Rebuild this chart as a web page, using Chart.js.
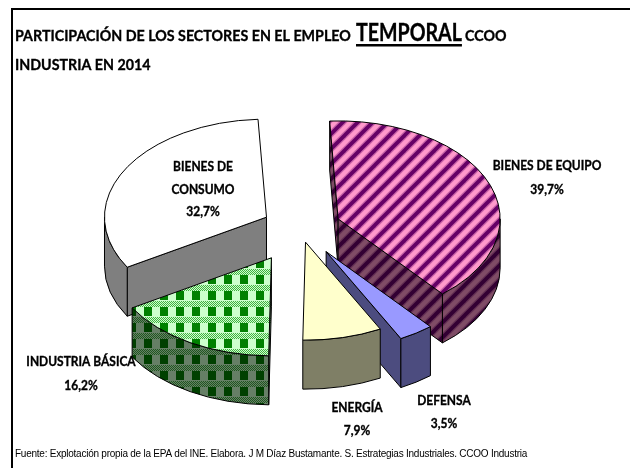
<!DOCTYPE html>
<html lang="es">
<head>
<meta charset="utf-8">
<title>Participación de los sectores en el empleo temporal</title>
<script src="https://cdn.jsdelivr.net/npm/chart.js@4"></script>
<style>html,body{margin:0;padding:0;background:#fff}canvas{display:block}</style>
</head>
<body>
<canvas id="c" width="630" height="468"></canvas>
<script>
const categories = ['BIENES DE EQUIPO', 'DEFENSA', 'ENERGÍA', 'INDUSTRIA BÁSICA', 'BIENES DE CONSUMO'];
const values = [39.7, 3.5, 7.9, 16.2, 32.7];
const valueLabels = ['39,7%', '3,5%', '7,9%', '16,2%', '32,7%'];
const explode = [41, 47, 24, 57, 38];

const TILT = 0.605, DEPTH = 49, FONT = 'Lato, "Open Sans", sans-serif';
const labelLines = [['BIENES DE EQUIPO'], ['DEFENSA'], ['ENERGÍA'], ['INDUSTRIA BÁSICA'], ['BIENES DE', 'CONSUMO']];
const labelPlace = [[547, 166, 24], [444, 401, 23], [357, 408, 23], [81, 362, 24], [203, 167, 22.5]];

function tile(size, paint, dark) {
  const t = document.createElement('canvas');
  t.width = t.height = size;
  const g = t.getContext('2d');
  paint(g, size);
  if (dark) { g.fillStyle = 'rgba(0,0,0,0.5)'; g.fillRect(0, 0, size, size); }
  return g.createPattern(t, 'repeat');
}
function stripes(g, s) {
  g.fillStyle = '#ff99cc'; g.fillRect(0, 0, s, s);
  [[6.5, 'rgba(102,0,102,0.35)'], [3.8, '#660066']].forEach(([w, c]) => {
    g.strokeStyle = c; g.lineWidth = w;
    for (let o = -s; o <= s; o += s) {
      g.beginPath(); g.moveTo(o - 2, s + 2); g.lineTo(o + s + 2, -2); g.stroke();
    }
  });
}
function plaid(g, s) {
  g.fillStyle = '#ccffcc'; g.fillRect(0, 0, s, s);
  g.fillStyle = '#008000'; g.fillRect(0, 3, 8, 9);
  for (let y = 13; y < s + 3; y++) for (let x = 0; x < s; x++) {
    if ((x + y) % 2 === 0) { g.fillStyle = '#40b040'; g.fillRect(x, y % s, 1, 1); }
  }
}
const solid = c => (g, s) => { g.fillStyle = c; g.fillRect(0, 0, s, s); };
const fills = [
  [15, stripes], [4, solid('#9999ff')], [4, solid('#ffffcc')], [16, plaid], [4, solid('#ffffff')]
].map(([s, p]) => ({ face: tile(s, p, false), wall: tile(s, p, true) }));

function drawSlice(ctx, arc, i) {
  const { x, y, startAngle: a, endAngle: b, outerRadius: R } = arc.getProps(['x', 'y', 'startAngle', 'endAngle', 'outerRadius'], true);
  const off = arc.options.offset, mid = (a + b) / 2;
  const ax = x + Math.cos(mid) * off, ay = y + Math.sin(mid) * off * TILT;
  const ry = R * TILT;
  const pt = t => [ax + Math.cos(t) * R, ay + Math.sin(t) * ry];
  const wall = build => {
    ctx.beginPath(); build(); ctx.closePath();
    ctx.fillStyle = fills[i].wall; ctx.fill(); ctx.stroke();
  };
  const radial = t => {
    const [px, py] = pt(t);
    wall(() => { ctx.moveTo(ax, ay); ctx.lineTo(px, py); ctx.lineTo(px, py + DEPTH); ctx.lineTo(ax, ay + DEPTH); });
  };
  ctx.strokeStyle = '#000'; ctx.lineWidth = 1;
  if (Math.sin(a - Math.PI / 2) > 0) radial(a);
  if (Math.sin(b + Math.PI / 2) > 0) radial(b);
  const f0 = Math.max(a, 0), f1 = Math.min(b, Math.PI);
  if (f1 > f0) wall(() => {
    ctx.ellipse(ax, ay, R, ry, 0, f0, f1);
    ctx.ellipse(ax, ay + DEPTH, R, ry, 0, f1, f0, true);
  });
  ctx.beginPath(); ctx.moveTo(ax, ay); ctx.ellipse(ax, ay, R, ry, 0, a, b); ctx.closePath();
  ctx.fillStyle = fills[i].face; ctx.fill(); ctx.stroke();
}

// Calibri-like narrowing: real text with a horizontal squeeze and a little extra weight
function squeezed(ctx, text, x, y, font, sx, align) {
  ctx.save();
  ctx.font = font; ctx.textAlign = align || 'left';
  ctx.translate(x, y); ctx.scale(sx, 1);
  ctx.fillText(text, 0, 0);
  ctx.strokeStyle = '#000'; ctx.lineWidth = 0.35;
  ctx.strokeText(text, 0, 0);
  const w = ctx.measureText(text).width * sx;
  ctx.restore();
  return w;
}

const pie3d = {
  id: 'pie3d',
  beforeDatasetDraw(chart) {
    const ctx = chart.ctx, arcs = chart.getDatasetMeta(0).data;
    ctx.save();
    [4, 0, 1, 2, 3].forEach(i => drawSlice(ctx, arcs[i], i));
    ctx.restore();
    return false;
  },
  afterDraw(chart) {
    const ctx = chart.ctx;
    ctx.save();
    // frame
    ctx.fillStyle = '#000';
    ctx.fillRect(11, 8, 619, 2);
    ctx.fillRect(11, 8, 2, 460);
    // title
    ctx.textBaseline = 'alphabetic'; ctx.fillStyle = '#000';
    const small = 'bold 15.5px ' + FONT, big = 'bold 24.5px ' + FONT;
    squeezed(ctx, 'PARTICIPACIÓN DE LOS SECTORES EN EL EMPLEO', 15, 41, small, 0.92);
    const w = squeezed(ctx, 'TEMPORAL', 356, 41, big, 0.8);
    ctx.fillRect(356, 44, w, 2.5);
    squeezed(ctx, 'CCOO', 465, 41, small, 0.92);
    squeezed(ctx, 'INDUSTRIA EN 2014', 15, 70, small, 0.92);
    // data labels
    ctx.textBaseline = 'middle';
    categories.forEach((_, i) => {
      const [x, y, step] = labelPlace[i];
      labelLines[i].concat(valueLabels[i]).forEach((l, n) =>
        squeezed(ctx, l, x, y + n * step, 'bold 13px ' + FONT, 0.92, 'center'));
    });
    // source
    ctx.textAlign = 'left'; ctx.textBaseline = 'alphabetic';
    ctx.font = '10px "Liberation Sans", Arial, sans-serif';
    ctx.letterSpacing = '-0.24px';
    ctx.fillText('Fuente: Explotación propia de la EPA del INE. Elabora. J M Díaz Bustamante. S. Estrategias Industriales. CCOO Industria', 15, 457);
    ctx.restore();
  }
};

new Chart(document.getElementById('c'), {
  type: 'pie',
  data: { labels: categories, datasets: [{ data: values, offset: explode, radius: 162 }] },
  options: {
    responsive: false,
    animation: false,
    rotation: -3,
    layout: { padding: { left: 0, right: 30, top: 0, bottom: 12 } },
    plugins: { legend: { display: false }, tooltip: { enabled: false }, title: { display: false } }
  },
  plugins: [pie3d]
});
</script>
</body>
</html>
